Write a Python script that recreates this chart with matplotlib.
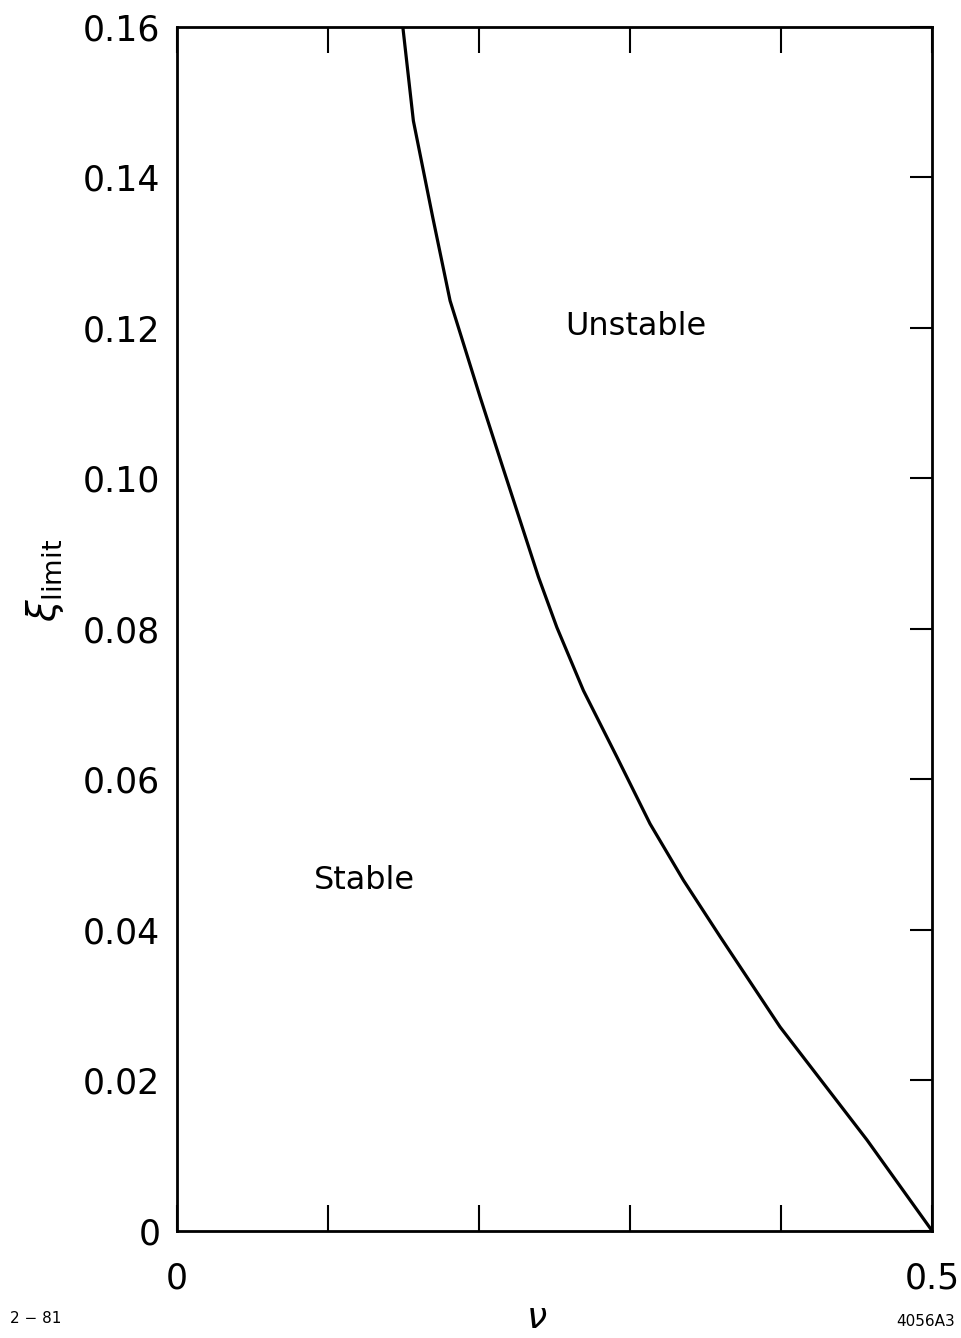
import matplotlib
matplotlib.use("Agg")
import matplotlib.pyplot as plt
import numpy as np

# curve: tune nu vs limiting beam-beam parameter
nu = [0.1495, 0.1565, 0.1693, 0.1808, 0.2007, 0.2150, 0.2393, 0.2515, 0.2691,
      0.2912, 0.3132, 0.3353, 0.3596, 0.3993, 0.4568, 0.5000]
xi_limit = [0.1600, 0.1475, 0.1347, 0.1236, 0.1108, 0.1019, 0.0869, 0.0802, 0.0718,
            0.0630, 0.0541, 0.0466, 0.0391, 0.0271, 0.0121, 0.0000]

y_ticks = [0, 0.02, 0.04, 0.06, 0.08, 0.10, 0.12, 0.14, 0.16]
y_ticklabels = ["0", "0.02", "0.04", "0.06", "0.08", "0.10", "0.12", "0.14", "0.16"]
x_ticks = [0, 0.1, 0.2, 0.3, 0.4, 0.5]
x_ticklabels = ["0", "", "", "", "", "0.5"]

plt.rcParams["font.family"] = ["DejaVu Sans"]

fig = plt.figure(figsize=(9.62, 13.38), dpi=100)
ax = fig.add_axes([0.184, 0.080, 0.785, 0.900])

ax.plot(nu, xi_limit, color="black", lw=2.3, solid_capstyle="butt")

ax.set_xlim(0, 0.5)
ax.set_ylim(0, 0.16)
ax.set_xticks(x_ticks)
ax.set_xticklabels(x_ticklabels, fontsize=25)
ax.set_yticks(y_ticks)
ax.set_yticklabels(y_ticklabels, fontsize=25)

ax.tick_params(axis="x", direction="in", length=19, width=1.5, top=True, bottom=True, pad=22)
ax.tick_params(axis="y", direction="in", length=16, width=1.5, left=False, right=True, pad=12)
for s in ax.spines.values():
    s.set_linewidth(2)

ax.text(0.304, 0.1202, "Unstable", fontsize=23, ha="center", va="center")
ax.text(0.124, 0.0466, "Stable", fontsize=23, ha="center", va="center")

ax.set_xlabel(r"$\nu$", fontsize=26, va="center")
ax.xaxis.set_label_coords(0.476, -0.072)
ax.set_ylabel(r"$\xi_{\mathrm{limit}}$", fontsize=28, va="center")
ax.yaxis.set_label_coords(-0.175, 0.54)

fig.text(0.010, 0.0145, "2 − 81", fontsize=11, ha="left", va="center")
fig.text(0.993, 0.012, "4056A3", fontsize=11, ha="right", va="center")

fig.savefig("out.png", dpi=100)
